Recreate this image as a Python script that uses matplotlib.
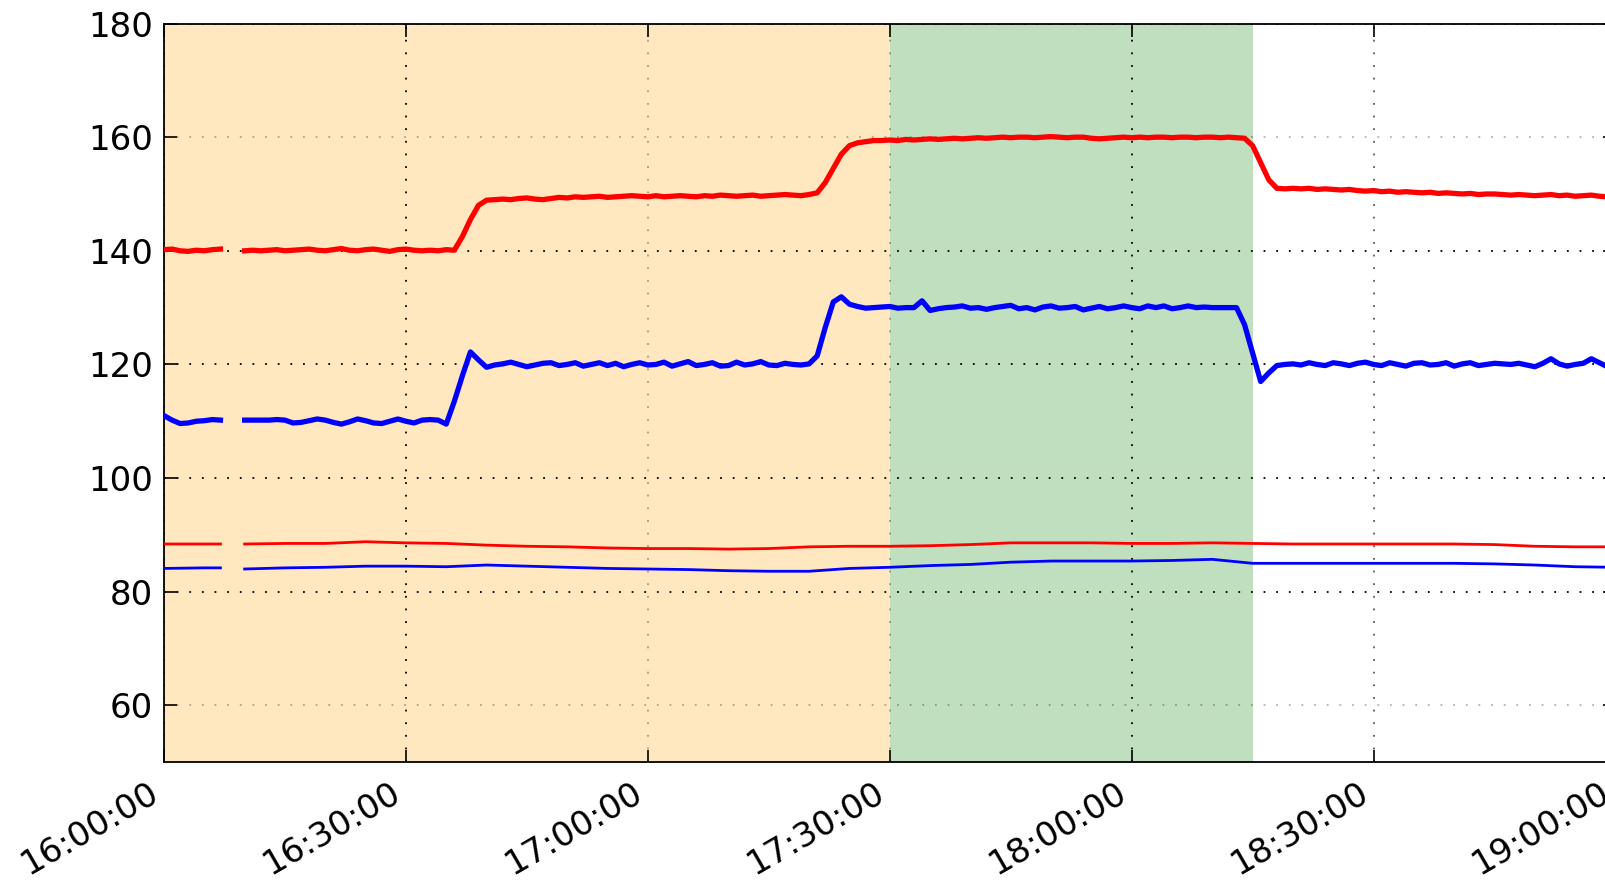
import numpy as np
import matplotlib
matplotlib.use("Agg")
import matplotlib.pyplot as plt
import matplotlib.dates as mdates

nan = np.nan

# ---- data (1-minute samples from 16:00 to 19:00, gap 16:08-16:09) ----
red_thick = ([140.2, 140.3, 140.0, 139.9, 140.1, 140.0, 140.2, 140.3]
             + [nan, nan]
             + [140.0, 140.1, 140.0, 140.1, 140.2, 140.0, 140.1, 140.2, 140.3, 140.1,
                140.0, 140.2, 140.4, 140.1, 140.0, 140.2, 140.3, 140.1, 139.9, 140.2,
                140.3, 140.1, 140.0, 140.1, 140.0, 140.2, 140.1]
             + [142.5, 145.5, 148.0, 148.9, 149.0, 149.1, 149.0, 149.2, 149.3, 149.1,
                149.0, 149.2, 149.4, 149.3, 149.5, 149.4, 149.5, 149.6, 149.4, 149.5,
                149.6, 149.7, 149.6]
             + [149.5, 149.7, 149.5, 149.6, 149.7, 149.6, 149.5, 149.7, 149.6, 149.8,
                149.7, 149.6, 149.7, 149.8, 149.6, 149.7, 149.8, 149.9, 149.8, 149.7,
                149.9]
             + [150.2, 152.0, 154.5, 157.0, 158.5, 159.0, 159.2, 159.4]
             + [159.4, 159.5, 159.4, 159.6, 159.5, 159.6, 159.7, 159.6, 159.7, 159.8,
                159.7, 159.8, 159.9, 159.8, 159.9, 160.0, 159.9, 160.0, 160.0, 159.9,
                160.0, 160.1, 160.0, 159.9, 160.0, 160.0, 159.8, 159.7, 159.8, 159.9,
                160.0, 159.9, 160.0, 159.9, 160.0, 160.0, 159.9, 160.0, 160.0, 159.9,
                160.0, 160.0, 159.9, 160.0, 159.9]
             + [159.8, 158.5, 155.5, 152.5, 151.0, 150.9]
             + [151.0, 150.9, 151.0, 150.8, 150.9, 150.8, 150.7, 150.8, 150.6, 150.5,
                150.6, 150.4, 150.5, 150.3, 150.4, 150.3, 150.2, 150.3, 150.1, 150.2,
                150.1, 150.0, 150.1, 149.9, 150.0, 150.0, 149.9, 149.8, 149.9, 149.8,
                149.7, 149.8, 149.9, 149.7, 149.8, 149.6, 149.7, 149.8, 149.6, 149.5,
                149.4])

blue_thick = ([111.0, 110.2, 109.6, 109.7, 110.0, 110.1, 110.3, 110.2]
              + [nan, nan]
              + [110.2, 110.2, 110.2, 110.2, 110.3, 110.2, 109.7, 109.8, 110.1, 110.4,
                 110.2, 109.8, 109.5, 109.9, 110.4, 110.1, 109.7, 109.6, 110.0, 110.4,
                 110.0, 109.7, 110.2, 110.3, 110.2]
              + [109.5, 113.5, 118.0, 122.2, 120.8, 119.5, 119.9, 120.1, 120.4, 120.0,
                 119.6, 119.9, 120.2, 120.3, 119.8, 120.0, 120.3, 119.7, 120.0, 120.3,
                 119.8, 120.2, 119.6, 120.0, 120.3, 119.9]
              + [120.0, 120.4, 119.7, 120.1, 120.5, 119.8, 120.0, 120.3, 119.7, 119.8,
                 120.4, 119.9, 120.1, 120.5, 119.9, 119.8, 120.2, 120.0, 119.9]
              + [120.1, 121.5, 126.5, 131.0, 131.9, 130.6, 130.2, 129.9, 130.0, 130.1,
                 130.2, 129.9, 130.0, 130.0, 131.2, 129.5, 129.8, 130.0, 130.1, 130.3,
                 129.9, 130.0, 129.7, 130.0, 130.2, 130.4, 129.8, 130.0, 129.6, 130.1,
                 130.3, 129.9, 130.0, 130.2, 129.6, 129.9, 130.2, 129.8, 130.0, 130.3,
                 130.0, 129.8, 130.3, 130.0, 130.3, 129.8, 130.0, 130.3, 130.0, 130.1,
                 130.0, 130.0, 130.0, 130.0]
              + [127.0, 122.0, 117.0, 118.5, 119.8, 120.0]
              + [120.1, 119.9, 120.3, 120.0, 119.8, 120.3, 120.1, 119.8, 120.2, 120.4,
                 120.0, 119.8, 120.3, 120.0, 119.7, 120.2, 120.3, 119.9, 120.0, 120.3,
                 119.7, 120.1, 120.3, 119.8, 120.0, 120.2, 120.1, 120.0, 120.2, 119.9,
                 119.6, 120.2, 121.0, 120.1, 119.7, 120.0, 120.2, 121.0, 120.3, 119.6,
                 120.0])

# thin series sampled at these minutes after 16:00
thin_minutes = [0, 5, 7, 8] + list(range(10, 181, 5))
red_thin = [88.4, 88.4, 88.4, nan,
            88.4, 88.5, 88.5, 88.8, 88.6, 88.5, 88.2, 88.0, 87.9, 87.7,
            87.6, 87.6, 87.5, 87.6, 87.9, 88.0, 88.0, 88.1, 88.3, 88.6,
            88.6, 88.6, 88.5, 88.5, 88.6, 88.5, 88.4, 88.4, 88.4, 88.4,
            88.4, 88.3, 88.0, 87.9, 87.9]
blue_thin = [84.1, 84.2, 84.2, nan,
             84.0, 84.2, 84.3, 84.5, 84.5, 84.4, 84.7, 84.5, 84.3, 84.1,
             84.0, 83.9, 83.7, 83.6, 83.6, 84.1, 84.3, 84.6, 84.8, 85.2,
             85.4, 85.4, 85.4, 85.5, 85.7, 85.0, 85.0, 85.0, 85.0, 85.0,
             85.0, 84.9, 84.7, 84.4, 84.3]

yticks = [60, 80, 100, 120, 140, 160, 180]

assert len(red_thick) == 181 and len(blue_thick) == 181
assert len(red_thin) == len(thin_minutes) == len(blue_thin)

start = np.datetime64("2000-01-01T16:00")
t_thick = start + np.arange(len(red_thick)).astype("timedelta64[m]")
t_thin = start + np.array(thin_minutes).astype("timedelta64[m]")
span1 = (start, start + np.timedelta64(90, "m"))
span2 = (start + np.timedelta64(90, "m"), start + np.timedelta64(135, "m"))
t_end = start + np.timedelta64(180, "m")

# ---- figure ----
fig = plt.figure(figsize=(16.06, 8.83), dpi=100)
ax = fig.add_axes([164 / 1606, 1 - 762.2 / 883, (1615.5 - 164) / 1606, (762.2 - 23.5) / 883])

ax.axvspan(*span1, color="orange", alpha=0.25, lw=0, zorder=0.3)
ax.axvspan(*span2, color="green", alpha=0.25, lw=0, zorder=0.3)

ax.plot(t_thin, red_thin, color="red", lw=2.0, zorder=3)
ax.plot(t_thin, blue_thin, color="blue", lw=2.0, zorder=3)
ax.plot(t_thick, red_thick, color="red", lw=3.8, zorder=3)
ax.plot(t_thick, blue_thick, color="blue", lw=3.8, zorder=3)

ax.set_xlim(start, t_end)
ax.set_ylim(50, 180)
ax.set_yticks(yticks)
ax.xaxis.set_major_locator(mdates.MinuteLocator(byminute=[0, 30]))
ax.xaxis.set_major_formatter(mdates.DateFormatter("%H:%M:%S"))

ax.grid(True, color="k", linestyle=(0, (1, 6)), linewidth=1.3, zorder=0.5)
ax.set_axisbelow(True)

ax.tick_params(direction="in", length=9, width=1.2, top=True, right=True,
               labelsize=24.5, colors="k")
ax.tick_params(axis="y", pad=8)
ax.tick_params(axis="x", pad=10)
for lbl in ax.get_xticklabels():
    lbl.set_rotation(30)
    lbl.set_ha("right")
for s in ax.spines.values():
    s.set_linewidth(1.3)
    s.set_color("k")

fig.canvas.draw()
# some grid lines look lighter in the reference
ygl = ax.get_ygridlines()
for i, v in enumerate(yticks):
    if v in (60, 160):
        ygl[i].set_alpha(0.3)
xgl = ax.get_xgridlines()
for i, g in enumerate(xgl):
    if i in (2, 3):
        g.set_alpha(0.35)
    elif i == 5:
        g.set_alpha(0.65)

fig.savefig("out.png", dpi=100)
